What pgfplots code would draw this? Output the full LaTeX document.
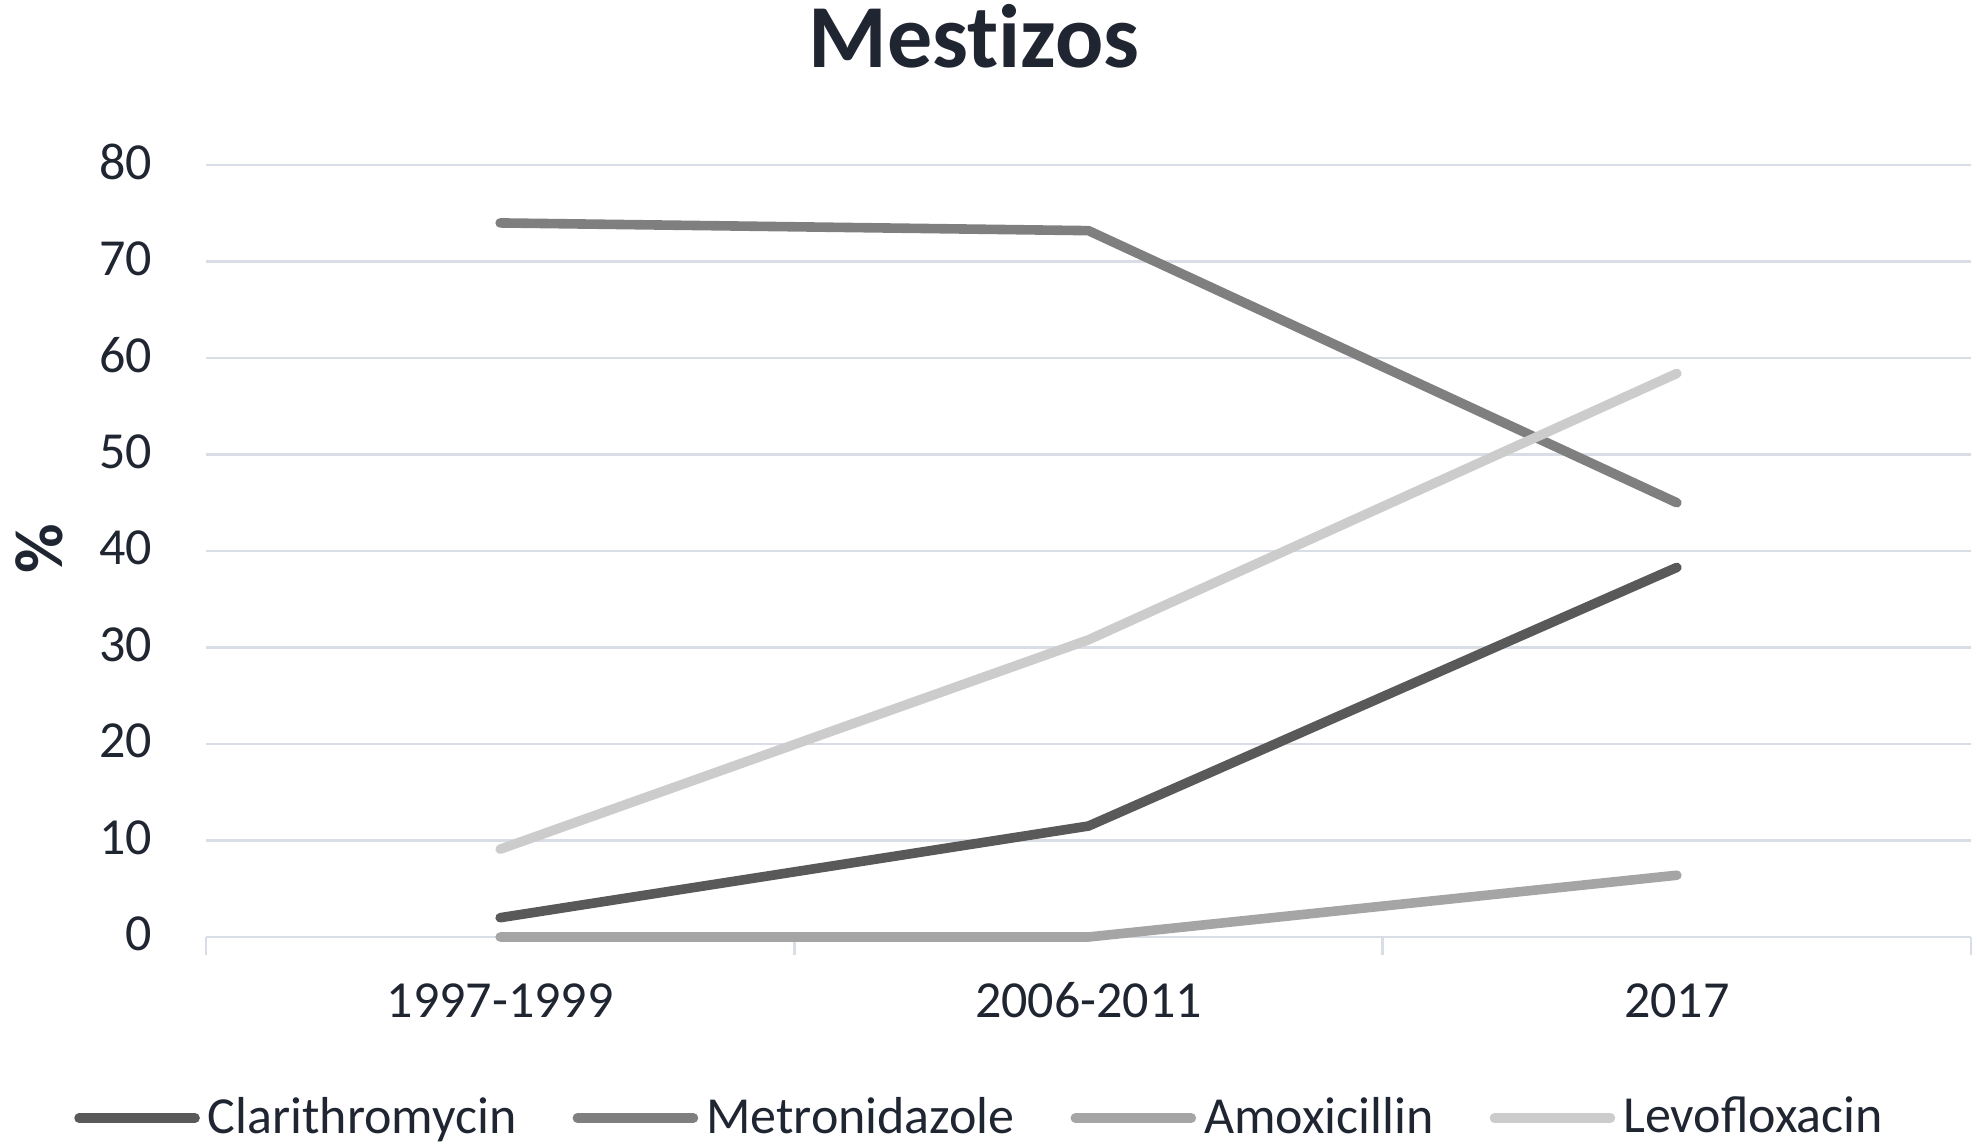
\documentclass[border=0pt]{standalone}
\usepackage{fontspec}
\setmainfont{Carlito}
\usepackage{pgfplots}
\pgfplotsset{compat=1.18}
\definecolor{txt}{HTML}{1F2531}
\definecolor{gridc}{HTML}{D9DEE6}
\definecolor{cla}{HTML}{595959}
\definecolor{met}{HTML}{7F7F7F}
\definecolor{amo}{HTML}{A5A5A5}
\definecolor{lev}{HTML}{CCCCCC}
\begin{document}
\begin{tikzpicture}
\path[use as bounding box] (0,0) rectangle (494.25bp,286.75bp);
\begin{axis}[
  at={(51.5bp,52.5bp)}, anchor=south west,
  scale only axis, width=441.25bp, height=193bp,
  xmin=-0.5, xmax=2.5, ymin=0, ymax=80,
  clip=false,
  xtick={0,1,2}, xticklabels={1997-1999,2006-2011,2017},
  minor xtick={-0.5,0.5,1.5,2.5},
  ytick={0,10,...,80},
  axis line style={draw=none},
  major tick length=0pt, minor tick length=4.5bp, tick align=outside,
  xtick pos=left, ytick pos=left,
  minor tick style={gridc, line width=0.7bp},
  ymajorgrids, major grid style={gridc, line width=0.7bp},
  /pgf/number format/assume math mode=true,
  tick label style={font=\fontsize{13bp}{15bp}\selectfont, text=txt},
  yticklabel style={anchor=east, inner sep=0pt, xshift=-13.25bp, yshift=0.75bp},
  xticklabel style={anchor=base, inner sep=0pt, yshift=-20bp},
  title={Mestizos},
  title style={at={(axis description cs:0.4351,1.0960)}, anchor=base, font=\fontsize{22.5bp}{26bp}\selectfont\bfseries\addfontfeature{Ligatures=NoCommon}, text=txt, inner sep=0pt},
  ylabel={\%},
  ylabel style={at={(axis description cs:-0.0946,0.503)}, anchor=center, font=\fontsize{17bp}{20bp}\selectfont\bfseries, text=txt, inner sep=0pt},
  legend columns=4,
  legend style={at={(axis description cs:0.4377,-0.2345)}, anchor=center, draw=none, fill=none,
    font=\fontsize{13bp}{15bp}\selectfont, text=txt, nodes={inner sep=0pt},
    /tikz/every odd column/.append style={column sep=2bp},
    /tikz/every even column/.append style={column sep=14bp}},
  legend image code/.code={\draw[#1, line cap=round] (0bp,0bp) -- (29bp,0bp);},
  every axis plot/.append style={line width=2.4bp, line cap=round, line join=round},
]
\addplot[cla] coordinates {(0,2) (1,11.5) (2,38.3)};
\addlegendentry{Clarithromycin}
\addplot[met] coordinates {(0,74) (1,73.2) (2,45)};
\addlegendentry{Metronidazole}
\addplot[amo] coordinates {(0,0) (1,0) (2,6.4)};
\addlegendentry{Amoxicillin}
\addplot[lev] coordinates {(0,9.1) (1,30.8) (2,58.4)};
\addlegendentry{Levofloxacin}
\end{axis}
\end{tikzpicture}
\end{document}
